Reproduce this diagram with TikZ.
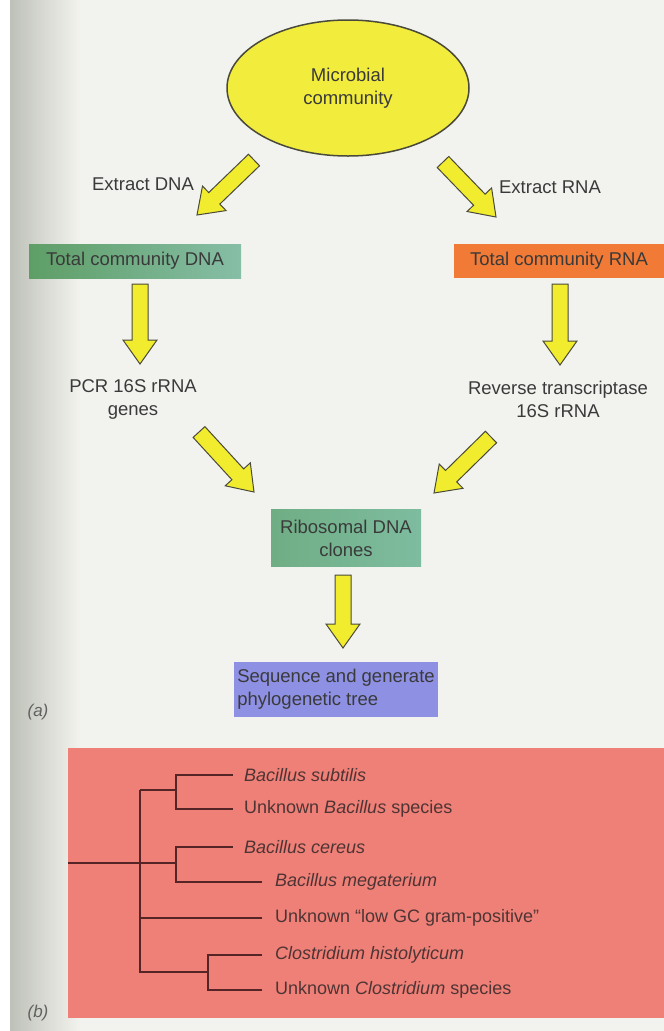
\documentclass[tikz,border=0pt]{standalone}
\usepackage{fontspec}
\setmainfont{Liberation Sans}
\usetikzlibrary{calc,shapes.geometric}

\definecolor{pagebg}{HTML}{F2F3EE}
\definecolor{scangrey}{HTML}{BEC1B8}
\definecolor{inktext}{HTML}{3A3A3A}
\definecolor{arrowyellow}{HTML}{F2EC2E}
\definecolor{arrowline}{HTML}{4A4A3A}
\definecolor{ellyellow}{HTML}{F2EC3C}
\definecolor{dnagreen}{HTML}{5E9E66}
\definecolor{dnateal}{HTML}{86BEA6}
\definecolor{rnaorange}{HTML}{F07A36}
\definecolor{ribgreen}{HTML}{6FAE84}
\definecolor{ribteal}{HTML}{7EBCA0}
\definecolor{seqblue}{HTML}{8E90E4}
\definecolor{treepink}{HTML}{EF8077}
\definecolor{treeline}{HTML}{552426}
\definecolor{treetext}{HTML}{4E3434}

\tikzset{
  fatarrow/.style={draw=arrowline, fill=arrowyellow, line width=1pt, line join=miter,
    to path={let \p1=(\tikztostart), \p2=(\tikztotarget),
      \n1={atan2(\y2-\y1,\x2-\x1)}, \n2={veclen(\x2-\x1,\y2-\y1)-24} in
      ($(\p1)+(\n1-90:8pt)$) -- ++(\n1:\n2) -- ++(\n1-90:9pt) -- (\p2)
      -- ($(\p2)+(\n1+180:24pt)+(\n1+90:17pt)$) -- ++(\n1-90:9pt)
      -- ++(\n1+180:\n2) -- cycle}},
  labeltext/.style={text=inktext, font=\fontsize{18.5}{23}\selectfont, align=center, inner sep=0pt},
  stepbox/.style={rectangle, labeltext, minimum height=34pt},
  leaf/.style={anchor=west, inner sep=0pt, text=treetext, font=\fontsize{18}{23}\selectfont},
  branch/.style={draw=treeline, line width=1.6pt}
}

\begin{document}
\begin{tikzpicture}[x=1pt, y=-1pt]
    \useasboundingbox (0,0) rectangle (664,1031);

    % Draw page
    \fill[pagebg] (0,0) rectangle (664,1031);
    \fill[white] (0,0) rectangle (10,1031);
    \shade[left color=scangrey, right color=pagebg] (10,0) rectangle (80,1031);

    % Draw flow chart
    \node[ellipse, draw=arrowline, line width=1.5pt, fill=ellyellow, labeltext,
          minimum width=242pt, minimum height=136pt] (mc) at (348,88) {Microbial\\community};
    \node[labeltext] (exdna) at (143,184) {Extract DNA};
    \node[labeltext] (exrna) at (550,187) {Extract RNA};
    \node[stepbox, left color=dnagreen, right color=dnateal, minimum width=212pt] (dna) at (135,261) {Total community DNA};
    \node[stepbox, fill=rnaorange, minimum width=210pt] (rna) at (559,261) {Total community RNA};
    \node[labeltext] (pcr) at (133,399) {PCR 16S rRNA\\genes};
    \node[labeltext] (rt) at (558,399) {Reverse transcriptase\\16S rRNA};
    \node[stepbox, left color=ribgreen, right color=ribteal, minimum width=150pt, minimum height=57pt] (rib) at (346,538) {Ribosomal DNA\\clones};
    \node[stepbox, fill=seqblue, align=left, minimum width=204pt, minimum height=55pt] (seq) at (336,689) {Sequence and generate\\phylogenetic tree};
    \node[labeltext, font=\fontsize{17}{20}\selectfont\itshape, text=inktext!80] (pa) at (38,712) {(a)};

    % Draw block arrows
    \coordinate (mcdna) at (254,160);  \coordinate (dnain) at (197,215);
    \coordinate (mcrna) at (443,162);  \coordinate (rnain) at (496,217);
    \coordinate (dnaout) at (140,284); \coordinate (pcrin) at (140,364);
    \coordinate (rnaout) at (560,284); \coordinate (rtin) at (560,365);
    \coordinate (pcrout) at (199,432); \coordinate (ribl) at (254,492);
    \coordinate (rtout) at (491,437);  \coordinate (ribr) at (434,493);
    \coordinate (ribout) at (343,575); \coordinate (seqin) at (343,648);
    \foreach \a/\b in {mcdna/dnain, mcrna/rnain, dnaout/pcrin, rnaout/rtin, pcrout/ribl, rtout/ribr, ribout/seqin}
        \draw[fatarrow] (\a) to (\b);

    % Draw tree panel
    \fill[treepink] (68,748) rectangle (664,1018);
    \node[labeltext, font=\fontsize{17}{20}\selectfont\itshape, text=inktext!80] (pb) at (38,1013) {(b)};

    \node[leaf] (bsub) at (244,775) {\textit{Bacillus subtilis}};
    \node[leaf] (bunk) at (244,809) {Unknown \textit{Bacillus} species};
    \node[leaf] (bcer) at (244,847) {\textit{Bacillus cereus}};
    \node[leaf] (bmeg) at (275,882) {\textit{Bacillus megaterium}};
    \node[leaf] (lowgc) at (275,918) {Unknown “low GC gram-positive”};
    \node[leaf] (chis) at (275,955) {\textit{Clostridium histolyticum}};
    \node[leaf] (cunk) at (275,990) {Unknown \textit{Clostridium} species};

    \coordinate (root) at (68,863);
    \coordinate (jtop) at (140,790);
    \coordinate (jbot) at (140,972);
    \coordinate (jb) at (176,790);
    \coordinate (jc) at (176,863);
    \coordinate (jk) at (208,972);

    \draw[branch] ([xshift=-11pt]bsub.west) -| (jb) |- ([xshift=-11pt]bunk.west);
    \draw[branch] ([xshift=-11pt]bcer.west) -| (jc) |- ([xshift=-13pt]bmeg.west);
    \draw[branch] ([xshift=-13pt]chis.west) -| (jk) |- ([xshift=-13pt]cunk.west);
    \draw[branch] (jtop) -- (jbot) -- (jk);
    \draw[branch] (jtop) -- (jb);
    \draw[branch] (root) -- (jc);
    \draw[branch] (jtop |- lowgc.west) -- ([xshift=-13pt]lowgc.west);
\end{tikzpicture}
\end{document}
